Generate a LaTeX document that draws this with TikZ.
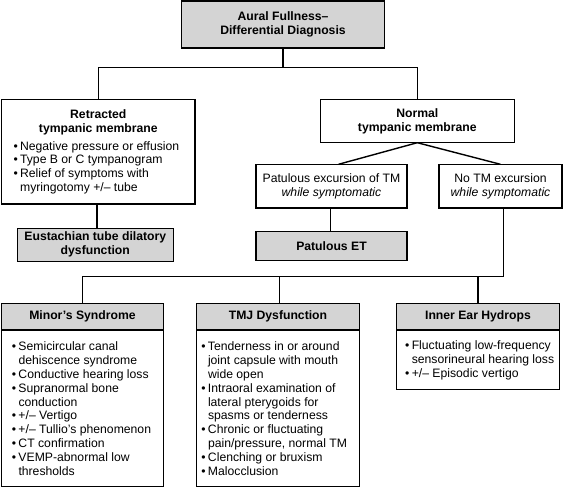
\documentclass[tikz,border=0pt]{standalone}
\usepackage{fontspec}
\setmainfont{Liberation Sans}
\definecolor{boxgray}{RGB}{212,212,212}
\newcommand{\bul}{\makebox[6.6pt][l]{\textbullet}}
\newcommand{\ind}{\hspace*{6.6pt}}
\newcommand{\plainfont}{\fontsize{12.2}{14}\selectfont}
\newcommand{\boldfont}{\fontsize{12.2}{14}\selectfont\bfseries}
\begin{document}
\begin{tikzpicture}[x=1pt,y=-1pt,
  box/.style={draw=black, line width=1.5pt, inner sep=0pt, outer sep=0pt,
    anchor=north west, align=center, font=\plainfont},
  graybox/.style={box, fill=boxgray},
  boldtext/.style={font=\boldfont},
  blist/.style={inner sep=0pt, anchor=west, align=left,
    font=\fontsize{12.2}{13.8}\selectfont},
  conn/.style={draw=black, line width=1.4pt}]
\useasboundingbox (0,0) rectangle (563,488);

% top
\node[graybox, boldtext, minimum width=202.6pt, minimum height=47pt] (top) at (181.7,0.8)
  {Aural Fullness--\\Differential Diagnosis};

% retracted
\node[box, minimum width=193.3pt, minimum height=104.7pt] (retr) at (1.7,99.3) {};
\node[boldtext, align=center, inner sep=0pt] (retrt) at (98.3,122.3)
  {Retracted\\tympanic membrane};
\node[blist] (retrb) at (13.3,167.7)
  {\bul Negative pressure or effusion\\
   \bul Type B or C tympanogram\\
   \bul Relief of symptoms with\\
   \ind myringotomy +/-- tube};

% normal
\node[box, boldtext, minimum width=194pt, minimum height=43.4pt] (norm) at (320.3,99.3)
  {Normal\\tympanic membrane};
\node[box, minimum width=151pt, minimum height=43.7pt] (patex) at (256,164.3)
  {Patulous excursion of TM\\\textit{while symptomatic}};
\node[box, minimum width=123pt, minimum height=43.7pt] (notm) at (439,164.3)
  {No TM excursion\\\textit{while symptomatic}};

% gray results
\node[graybox, boldtext, minimum width=156pt, minimum height=33pt] (eust) at (17.3,228.3)
  {Eustachian tube dilatory\\dysfunction};
\node[graybox, boldtext, minimum width=151pt, minimum height=29pt] (patet) at (256,231.7)
  {Patulous ET};

% bottom boxes: bodies
\node[box, minimum width=161.6pt, minimum height=156.7pt] (minorb) at (1.7,330) {};
\node[box, minimum width=162.6pt, minimum height=156.7pt] (tmjb) at (196.7,330) {};
\node[box, minimum width=162.6pt, minimum height=59.7pt] (innerb) at (396.7,330) {};
% headers
\node[graybox, boldtext, minimum width=161.6pt, minimum height=26.7pt] (minorh) at (1.7,303.3)
  {Minor's Syndrome};
\node[graybox, boldtext, minimum width=162.6pt, minimum height=26.7pt] (tmjh) at (196.7,303.3)
  {TMJ Dysfunction};
\node[graybox, boldtext, minimum width=162.6pt, minimum height=26.7pt] (innerh) at (396.7,303.3)
  {Inner Ear Hydrops};

% bullet texts
\node[blist] (minorl) at (11.7,408.7)
  {\bul Semicircular canal\\
   \ind dehiscence syndrome\\
   \bul Conductive hearing loss\\
   \bul Supranormal bone\\
   \ind conduction\\
   \bul +/-- Vertigo\\
   \bul +/-- Tullio's phenomenon\\
   \bul CT confirmation\\
   \bul VEMP-abnormal low\\
   \ind thresholds};
\node[blist] (tmjl) at (201.2,408.7)
  {\bul Tenderness in or around\\
   \ind joint capsule with mouth\\
   \ind wide open\\
   \bul Intraoral examination of\\
   \ind lateral pterygoids for\\
   \ind spasms or tenderness\\
   \bul Chronic or fluctuating\\
   \ind pain/pressure, normal TM\\
   \bul Clenching or bruxism\\
   \bul Malocclusion};
\node[blist] (innerl) at (405,360.6)
  {\bul Fluctuating low-frequency\\
   \ind sensorineural hearing loss\\
   \bul +/-- Episodic vertigo};

% connectors
\coordinate (bus1) at (0,67.7);
\coordinate (bus2) at (0,276.3);
\draw[conn] (top.south) -- (top.south |- bus1);
\draw[conn] (retr.north) |- (norm.north |- bus1) -- (norm.north);
\draw[conn] ([xshift=-1.5pt]retr.south) -- ([xshift=-1.5pt]retr.south |- eust.north);
\draw[conn] (norm.south) -- ([xshift=7pt]patex.north);
\draw[conn] (norm.south) -- (notm.north);
\draw[conn] ([xshift=-1pt]patex.south) -- ([xshift=-1pt]patex.south |- patet.north);
\draw[conn] ([xshift=3pt]notm.south) |- (minorh.north |- bus2) -- (minorh.north);
\draw[conn] ([xshift=1.5pt]tmjh.north |- bus2) -- ([xshift=1.5pt]tmjh.north);
\draw[conn] (innerh.north |- bus2) -- (innerh.north);
\end{tikzpicture}
\end{document}
